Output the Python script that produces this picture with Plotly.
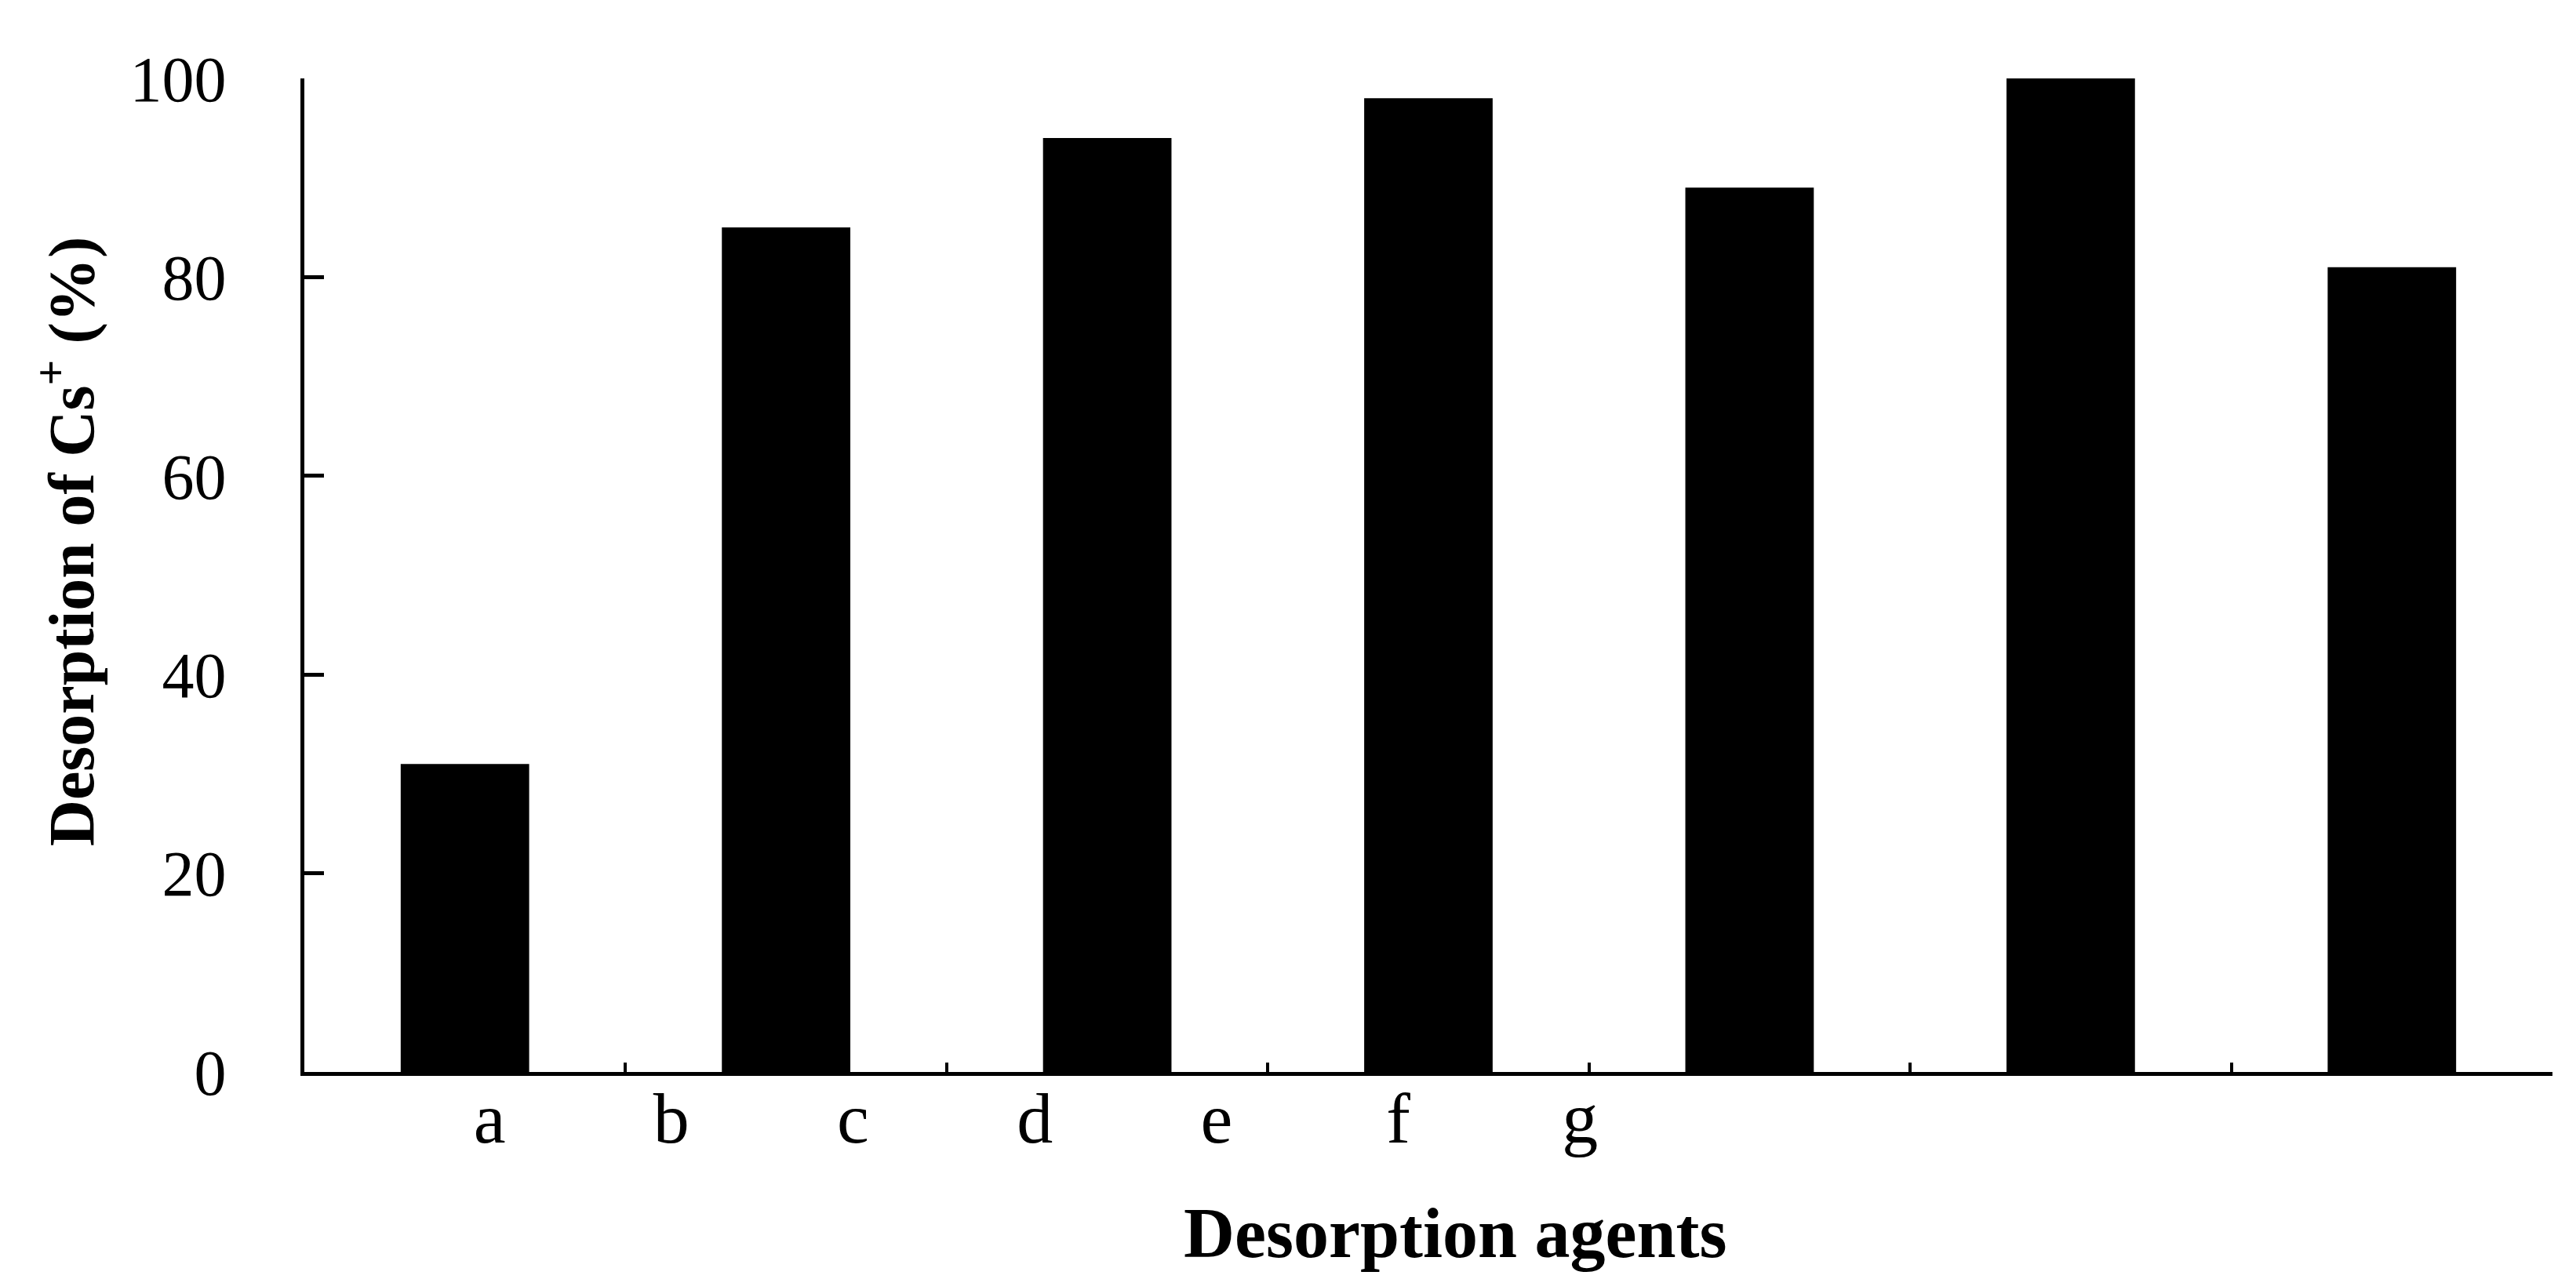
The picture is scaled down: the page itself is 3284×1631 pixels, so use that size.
import plotly.graph_objects as go

# bars (one per slot along the category axis)
bar_slots = [1, 2, 3, 4, 5, 6, 7]
desorption = [31, 85, 94, 98, 89, 100, 81]

# agent labels, drawn on their own axis as in the original figure
agents = ["a", "b", "c", "d", "e", "f", "g"]
agent_pos = [1, 2, 3, 4, 5, 6, 7]

y_ticks = [0, 20, 40, 60, 80, 100]

y_title = "Desorption of Cs<sup>+</sup> (%)"
x_title = "Desorption agents"

SERIF = "Liberation Serif"

fig = go.Figure()
fig.add_trace(go.Bar(x=bar_slots, y=desorption, width=0.4,
                     marker=dict(color="black", line=dict(width=0)),
                     showlegend=False, hoverinfo="x+y"))
# invisible carrier so the label axis gets drawn
fig.add_trace(go.Scatter(x=agent_pos, y=[0] * len(agent_pos), xaxis="x2",
                         mode="markers", marker=dict(opacity=0),
                         showlegend=False, hoverinfo="skip"))

fig.update_layout(
    width=3284, height=1631,
    margin=dict(l=380, r=38, t=92, b=272),
    paper_bgcolor="white", plot_bgcolor="white",
    font=dict(family=SERIF, size=82, color="black"),
    xaxis=dict(
        range=[0.5, 7.5], tick0=0.5, dtick=1,
        ticks="inside", ticklen=12, tickwidth=4, tickcolor="black",
        showticklabels=False, showgrid=False, zeroline=False,
        showline=True, linecolor="black", linewidth=5,
    ),
    xaxis2=dict(
        overlaying="x", anchor="free", position=0.018, side="bottom",
        range=[-0.019, 12.35], tickmode="array",
        tickvals=agent_pos, ticktext=agents,
        ticks="", showline=False, showgrid=False, zeroline=False,
        tickfont=dict(family=SERIF, size=92), ticklabelstandoff=20,
    ),
    yaxis=dict(
        range=[0, 100], tickmode="array", tickvals=y_ticks,
        ticks="inside", ticklen=25, tickwidth=5, tickcolor="black",
        showgrid=False, zeroline=False,
        showline=True, linecolor="black", linewidth=5,
        ticklabelstandoff=78,
        tickfont=dict(family=SERIF, size=82),
    ),
    annotations=[
        dict(text=y_title, textangle=-90, xref="paper", yref="paper",
             x=-0.106, y=0.5335, xanchor="center", yanchor="middle",
             showarrow=False, font=dict(family=SERIF, size=82, weight="bold")),
        dict(text=x_title, xref="paper", yref="paper",
             x=0.512, y=-0.162, xanchor="center", yanchor="middle",
             showarrow=False, font=dict(family=SERIF, size=90, weight="bold")),
    ],
)

fig.write_html("out.html")
